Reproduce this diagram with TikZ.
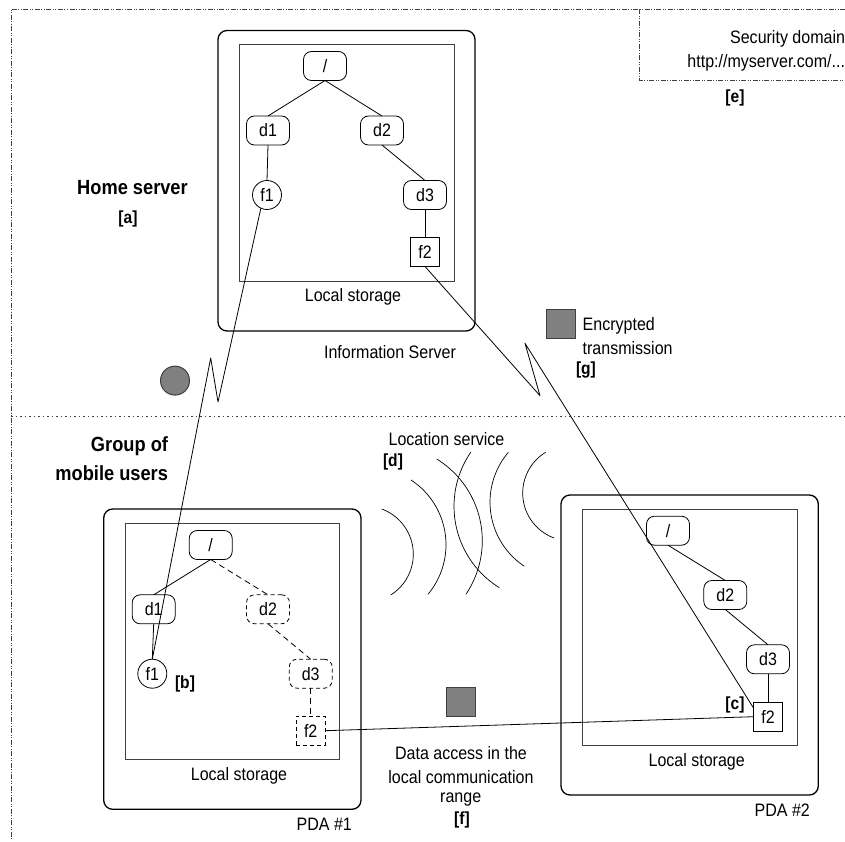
\documentclass[tikz,border=0pt]{standalone}
\usepackage{fontspec}
\setmainfont[FakeStretch=0.89]{Liberation Sans}
\usetikzlibrary{calc,shapes.misc}
\newcommand{\wavearc}[5]{\draw[wave] plot[domain=#4:#5,samples=40,smooth] ({#1+#3*cos(\x)},{#2+#3*sin(\x)});}
\definecolor{edgegray}{HTML}{404040}
\definecolor{midgray}{HTML}{808080}
\tikzset{
  x=1pt,y=-1pt,
  every node/.style={inner sep=0pt,outer sep=0pt,font=\fontsize{18}{20}\selectfont},
  lab/.style={text height=14pt,text depth=2pt},
  key/.style={lab,font=\fontsize{17.5}{20}\selectfont\bfseries},
  head/.style={text height=16pt,text depth=1pt,font=\fontsize{20.5}{22}\selectfont\bfseries},
  outerbox/.style={draw=black,line width=1.3pt,rounded corners=9pt},
  innerbox/.style={draw=edgegray,line width=1pt},
  dirbox/.style={draw=black,line width=.8pt,rounded corners=8pt,minimum width=43pt,minimum height=29pt},
  dirghost/.style={dirbox,dash pattern=on 4pt off 3pt},
  filecirc/.style={draw=black,line width=.8pt,circle,minimum size=29pt},
  filebox/.style={draw=black,line width=.8pt,minimum size=29pt},
  fileghost/.style={filebox,dash pattern=on 4pt off 3pt},
  link/.style={draw=black,line width=.8pt},
  ghostlink/.style={draw=black,line width=.8pt,dash pattern=on 6pt off 4pt},
  radio/.style={draw=black,line width=.8pt,line join=round},
  wave/.style={draw=black,line width=.7pt},
  frame/.style={draw=edgegray,line width=.8pt,dash pattern=on 5pt off 1.5pt on 1pt off 1.5pt on 1pt off 1.5pt},
  split/.style={draw=edgegray,line width=.8pt,dash pattern=on 1.5pt off 3pt},
  token/.style={draw=edgegray,fill=midgray,line width=1pt,minimum size=29pt},
}
\begin{document}
\begin{tikzpicture}
\useasboundingbox (0,0) rectangle (845,842);
% frames
\draw[frame] (845,9.5) -- (11,9.5) -- (11,840);
\draw[split] (11,416) -- (845,416);
\draw[frame] (639.3,9.5) -- (639.3,80) -- (845,80);
% server
\draw[outerbox] (218,30.5) rectangle (475,331);
\draw[innerbox] (239.5,44.5) rectangle (454,281);
\node[dirbox] (sr) at (325,66) {/};
\node[dirbox] (sd1) at (268,130.5) {d1};
\node[dirbox] (sd2) at (382,130.5) {d2};
\node[filecirc] (sf1) at (267,195) {f1};
\node[dirbox] (sd3) at (425,195) {d3};
\node[filebox] (sf2) at (425,252) {f2};
\draw[link] (sr.south) -- (sd1.north);
\draw[link] (sr.south) -- (sd2.north);
\draw[link] (sd1.south) -- (sf1.north);
\draw[link] (sd2.south) -- (sd3.north);
\draw[link] (sd3.south) -- (sf2.north);
\node[lab] (sls) at (353,295) {Local storage};
\node[lab] (sname) at (390,352) {Information Server};
% PDA 1
\draw[outerbox] (103.7,509) rectangle (361,809.3);
\draw[innerbox] (125,523.3) rectangle (339.7,759.3);
\node[dirbox] (ar) at (210.7,545) {/};
\node[dirbox] (ad1) at (153.7,609.3) {d1};
\node[dirghost] (ad2) at (268,609.3) {d2};
\node[filecirc] (af1) at (152.3,673.7) {f1};
\node[dirghost] (ad3) at (310.7,673.7) {d3};
\node[fileghost] (af2) at (310.7,730.7) {f2};
\draw[link] (ar.south) -- (ad1.north);
\draw[ghostlink] (ar.south) -- (ad2.north);
\draw[link] (ad1.south) -- (af1.north);
\draw[ghostlink] (ad2.south) -- (ad3.north);
\draw[ghostlink] (ad3.south) -- (af2.north);
\node[lab] (als) at (239,774) {Local storage};
\node[lab] (aname) at (324.3,824) {PDA \#1};
% PDA 2
\draw[outerbox] (561,495) rectangle (818.3,795);
\draw[innerbox] (582.3,509.3) rectangle (797,745);
\node[dirbox] (br) at (668,530.7) {/};
\node[dirbox] (bd2) at (725.3,595) {d2};
\node[dirbox] (bd3) at (768,659.3) {d3};
\node[filebox] (bf2) at (768,716.7) {f2};
\draw[link] (br.south) -- (bd2.north);
\draw[link] (bd2.south) -- (bd3.north);
\draw[link] (bd3.south) -- (bf2.north);
\node[lab] (bls) at (696.7,760.7) {Local storage};
\node[lab] (bname) at (782.3,810) {PDA \#2};
% radio links
\coordinate (z1a) at (218,402);
\coordinate (z1b) at (210.7,358);
\coordinate (z2a) at (540,395.7);
\coordinate (z2b) at (525,343.3);
\coordinate (z2e) at ($(bf2.west)+(0,-8.7)$);
\draw[radio] (sf1.-115) -- (z1a) -- (z1b) -- (af1.north);
\draw[radio] (sf2.south) -- (z2a) -- (z2b) -- (z2e);
\draw[link] (af2.east) -- (bf2.west);
% tokens
\node[token,circle] (tc) at (175,380.6) {};
\node[token] (ts1) at (561.2,323.5) {};
\node[token] (ts2) at (461,702) {};
% waves
\wavearc{365.2}{554.2}{48.1}{-70}{58}
\wavearc{368.7}{544.7}{77.3}{-56.8}{39.9}
\wavearc{386.3}{540.7}{96}{-58.3}{33.9}
\wavearc{549.7}{506.3}{95.7}{121.8}{214.4}
\wavearc{567}{502.2}{77}{123.7}{220.4}
\wavearc{570.5}{493.1}{47.8}{110.2}{238.7}
% labels
\node[head] (home) at (132.5,187) {Home server};
\node[key] (ka) at (128,218) {[a]};
\node[head,anchor=east] (g1) at (168,444) {Group of};
\node[head,anchor=east] (g2) at (168,472.7) {mobile users};
\node[key] (kb) at (185,682) {[b]};
\node[key] (kc) at (735,703) {[c]};
\node[lab] (loc) at (446.5,439) {Location service};
\node[key] (kd) at (393,460.7) {[d]};
\node[lab,anchor=east] (sec1) at (845,38) {Security domain};
\node[lab,anchor=east] (sec2) at (845,62) {http://myserver.com/...};
\node[key] (ke) at (735,96.7) {[e]};
\node[lab,anchor=west] (enc1) at (582.7,324) {Encrypted};
\node[lab,anchor=west] (enc2) at (582.7,348.5) {transmission};
\node[key,anchor=west] (kg) at (576,368) {[g]};
\node[lab] (f1t) at (461,753) {Data access in the};
\node[lab] (f2t) at (461,777) {local communication};
\node[lab] (f3t) at (460.7,796) {range};
\node[key] (kf) at (462,818) {[f]};
\end{tikzpicture}
\end{document}
